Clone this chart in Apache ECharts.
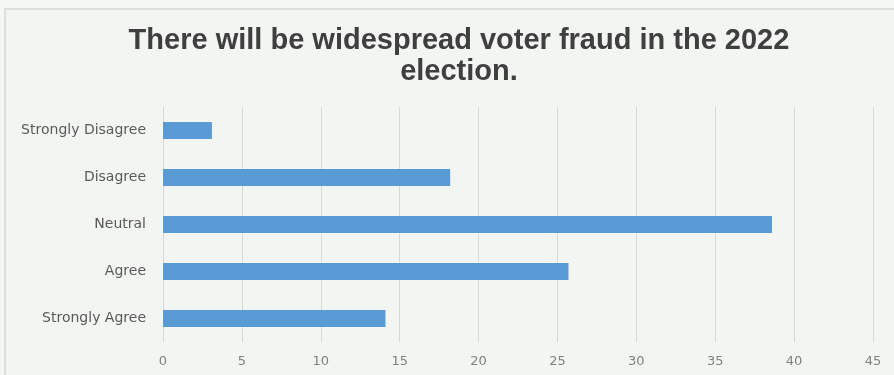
<!DOCTYPE html>
<html>
<head>
<meta charset="utf-8">
<script src="https://cdn.jsdelivr.net/npm/echarts@6/dist/echarts.min.js"></script>
<style>
  html, body { margin: 0; padding: 0; background: #f6f8f6; }
  #chart { width: 894px; height: 375px; }
</style>
</head>
<body>
<div id="chart"></div>
<script>
// Survey responses, listed top to bottom
const categories = ['Strongly Disagree', 'Disagree', 'Neutral', 'Agree', 'Strongly Agree'];
const responseShares = [3.1, 18.2, 38.6, 25.7, 14.1];
const titleText = 'There will be widespread voter fraud in the 2022\nelection.';

const chart = echarts.init(document.getElementById('chart'), null, { renderer: 'canvas' });

chart.setOption({
  animation: false,
  backgroundColor: '#f6f8f6',
  graphic: [{
    type: 'rect',
    z: -10,
    shape: { x: 5, y: 9, width: 920, height: 400 },
    style: { fill: '#f2f5f2', stroke: '#dcdfdc', lineWidth: 2 }
  }],
  title: {
    text: titleText,
    left: 454,
    top: 20,
    textAlign: 'center',
    textStyle: {
      fontFamily: 'Liberation Sans',
      fontWeight: 'bold',
      fontSize: 29,
      lineHeight: 31,
      color: '#3f3f3f'
    }
  },
  grid: { left: 163, right: 21, top: 107, bottom: 33, containLabel: false },
  xAxis: {
    type: 'value',
    min: 0,
    max: 45,
    interval: 5,
    axisLine: { show: false },
    axisTick: { show: false },
    axisLabel: { color: '#808080', fontSize: 13, margin: 13, fontFamily: 'DejaVu Sans' },
    splitLine: { show: true, lineStyle: { color: '#d9d9d9', width: 1 } }
  },
  yAxis: {
    type: 'category',
    data: categories,
    inverse: true,
    axisLine: { show: false },
    axisTick: { show: false },
    axisLabel: { color: '#595959', fontSize: 14, margin: 17, fontFamily: 'DejaVu Sans' },
    splitLine: { show: false }
  },
  series: [{
    type: 'bar',
    data: responseShares,
    barWidth: 17,
    itemStyle: { color: '#5b9bd5' }
  }]
});
</script>
</body>
</html>
